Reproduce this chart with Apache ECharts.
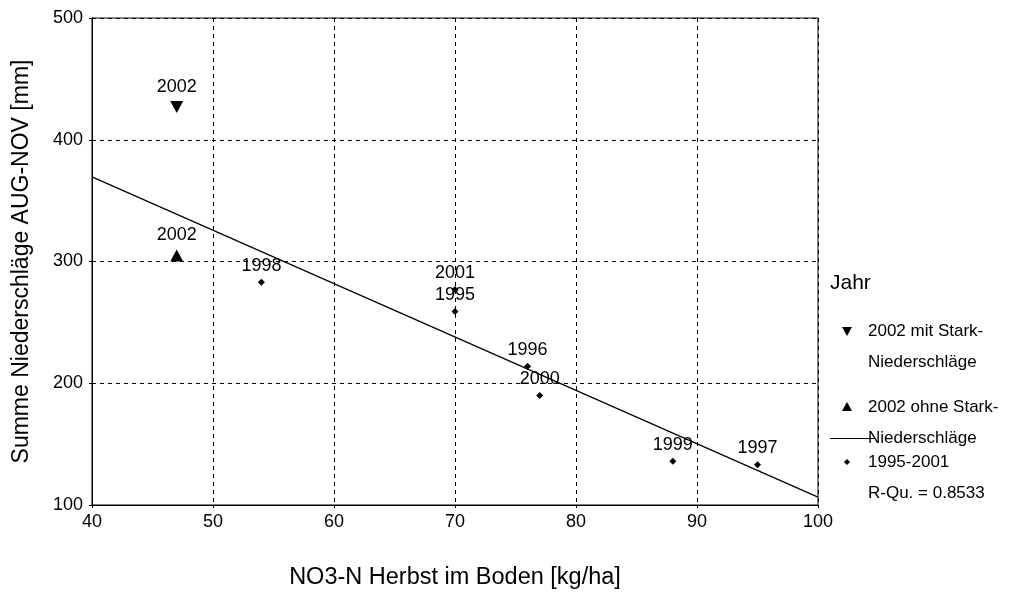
<!DOCTYPE html>
<html><head><meta charset="utf-8">
<script src="https://cdn.jsdelivr.net/npm/echarts@6/dist/echarts.min.js"></script>
<style>html,body{margin:0;padding:0;background:#fff}#c{width:1016px;height:592px}</style>
</head><body><div id="c"></div>
<script>
// Data
const years = ['1995','1996','1997','1998','1999','2000','2001'];
const no3 = [70, 76, 95, 54, 88, 77, 70];
const rain = [259, 214, 133, 283, 136, 190, 277];
const mitLabel = ['2002'];
const mitX = [47];
const mitY = [427];
const ohneLabel = ['2002'];
const ohneX = [47];
const ohneY = [305];
const fitX = [40, 100];
const fitY = [369.5, 106.5];
const xTicks = [40, 50, 60, 70, 80, 90, 100];
const yTicks = [100, 200, 300, 400, 500];

const font = 'Liberation Sans, Arial, sans-serif';
function pts(xs, ys, ls) { return xs.map((x, i) => ({ value: [x, ys[i]], name: ls[i] })); }
const lbl = { show: true, position: 'top', distance: 5, color: '#000', fontSize: 18, fontFamily: font, formatter: p => p.name };

function txt(x, y, s, size) {
  return { type: 'text', x: x, y: y, style: { text: s, fontSize: size, fontFamily: font, fill: '#000', verticalAlign: 'middle', align: 'left' } };
}

const chart = echarts.init(document.getElementById('c'), null, { renderer: 'canvas' });
chart.setOption({
  animation: false,
  backgroundColor: '#fff',
  textStyle: { fontFamily: font },
  grid: { left: 92, right: 198, top: 18, bottom: 87, show: true, borderColor: '#000', borderWidth: 1, containLabel: false, outerBoundsMode: 'none' },
  xAxis: {
    type: 'value', min: xTicks[0], max: xTicks[xTicks.length - 1], interval: 10,
    name: 'NO3-N Herbst im Boden [kg/ha]', nameLocation: 'middle', nameGap: 61,
    nameTextStyle: { color: '#000', fontSize: 23.5, fontFamily: font },
    axisLine: { show: true, lineStyle: { color: '#000', width: 1 } },
    axisTick: { show: true, length: 3, lineStyle: { color: '#000' } },
    axisLabel: { color: '#000', fontSize: 18, margin: 8, fontFamily: font },
    splitLine: { show: true, lineStyle: { color: '#000', type: [4, 4], width: 1 } }
  },
  yAxis: {
    type: 'value', min: yTicks[0], max: yTicks[yTicks.length - 1], interval: 100,
    name: 'Summe Niederschläge AUG-NOV [mm]', nameLocation: 'middle', nameGap: 59,
    nameTextStyle: { color: '#000', fontSize: 23, fontFamily: font },
    axisLine: { show: true, lineStyle: { color: '#000', width: 1 } },
    axisTick: { show: true, length: 3, lineStyle: { color: '#000' } },
    axisLabel: { color: '#000', fontSize: 18, margin: 9, fontFamily: font },
    splitLine: { show: true, lineStyle: { color: '#000', type: [4, 4], width: 1 } }
  },
  series: [
    { name: 'fit', type: 'line', data: fitX.map((x, i) => [x, fitY[i]]), symbol: 'none',
      lineStyle: { color: '#000', width: 1.2 }, silent: true, z: 3 },
    { name: '1995-2001', type: 'scatter', data: pts(no3, rain, years), symbol: 'diamond', symbolSize: 7,
      itemStyle: { color: '#000', opacity: 1 }, label: Object.assign({}, lbl, { distance: 4 }), labelLayout: { hideOverlap: false }, z: 4 },
    { name: '2002 mit', type: 'scatter', data: pts(mitX, mitY, mitLabel), symbol: 'path://M0,0 L10,0 L5,9 Z', symbolSize: [13, 12],
      itemStyle: { color: '#000', opacity: 1 }, label: lbl, z: 4 },
    { name: '2002 ohne', type: 'scatter', data: pts(ohneX, ohneY, ohneLabel), symbol: 'path://M5,0 L10,9 L0,9 Z', symbolSize: [13, 12],
      itemStyle: { color: '#000', opacity: 1 }, label: lbl, z: 4 }
  ],
  graphic: [
    txt(830, 283, 'Jahr', 21),
    { type: 'polygon', shape: { points: [[842, 327], [852, 327], [847, 336]] }, style: { fill: '#000' } },
    txt(868, 331, '2002 mit Stark-', 17),
    txt(868, 362, 'Niederschläge', 17),
    { type: 'polygon', shape: { points: [[847, 402], [852, 411], [842, 411]] }, style: { fill: '#000' } },
    txt(868, 407, '2002 ohne Stark-', 17),
    txt(868, 438, 'Niederschläge', 17),
    { type: 'line', shape: { x1: 830, y1: 438.5, x2: 875, y2: 438.5 }, style: { stroke: '#000', lineWidth: 1 } },
    { type: 'polygon', shape: { points: [[847, 459], [850, 462], [847, 465], [844, 462]] }, style: { fill: '#000' } },
    txt(868, 462, '1995-2001', 17),
    txt(868, 493, 'R-Qu. = 0.8533', 17)
  ]
});
</script></body></html>
